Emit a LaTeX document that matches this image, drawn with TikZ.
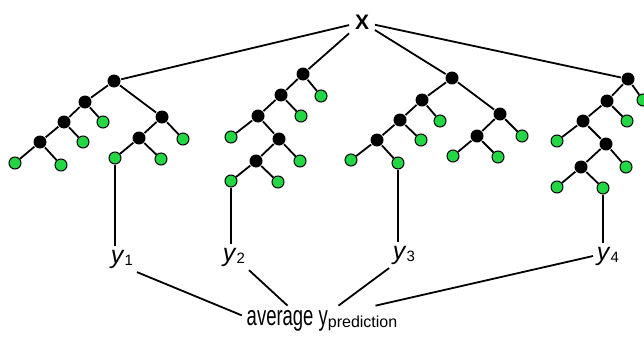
\documentclass[tikz,border=0pt]{standalone}
\usepackage{fontspec}
\setmainfont{Liberation Sans}
\newfontfamily\narrowfont{Liberation Sans}[FakeStretch=0.66]
\usepackage{tikz}
\usetikzlibrary{positioning}
\definecolor{leafgreen}{RGB}{34,214,68}
\newcommand{\ysub}[1]{\textit{y}\raisebox{-2.5pt}{\fontsize{15}{17}\selectfont #1}}

\begin{document}
\begin{tikzpicture}[x=1pt,y=-1pt,
        split/.style={circle,fill=black,inner sep=0pt,minimum size=13pt},
        leaf/.style={circle,draw=black,line width=1pt,fill=leafgreen,inner sep=0pt,minimum size=12pt},
        ylab/.style={inner sep=3pt,font=\fontsize{25}{28}\selectfont},
        every path/.style={line width=1.8pt}]
        \useasboundingbox (0,0) rectangle (644,337);

        \node[inner sep=5pt,font=\fontsize{21}{24}\selectfont\bfseries] (x) at (362,22) {X};

        % tree 1
        \node[split] (t1r) at (114,81) {};
        \node[split] (t1a) at (85,102) {};
        \node[split] (t1b) at (64,122) {};
        \node[split] (t1c) at (40,142) {};
        \node[split] (t1d) at (162,117) {};
        \node[split] (t1e) at (139,138) {};
        \node[leaf] (t1cl) at (15,163) {};
        \node[leaf] (t1cr) at (61,165) {};
        \node[leaf] (t1br) at (83,142) {};
        \node[leaf] (t1ar) at (103,122) {};
        \node[leaf] (t1dr) at (183,139) {};
        \node[leaf] (t1el) at (115,158) {};
        \node[leaf] (t1er) at (161,159) {};

        % tree 2
        \node[split] (t2r) at (303,74) {};
        \node[split] (t2a) at (281,95) {};
        \node[split] (t2b) at (258,116) {};
        \node[split] (t2c) at (279,139) {};
        \node[split] (t2d) at (256,161) {};
        \node[leaf] (t2rr) at (321,96) {};
        \node[leaf] (t2ar) at (301,116) {};
        \node[leaf] (t2bl) at (231,137) {};
        \node[leaf] (t2cr) at (300,161) {};
        \node[leaf] (t2dl) at (231,181) {};
        \node[leaf] (t2dr) at (278,182) {};

        % tree 3
        \node[split] (t3r) at (452,78) {};
        \node[split] (t3a) at (422,100) {};
        \node[split] (t3b) at (400,120) {};
        \node[split] (t3c) at (377,140) {};
        \node[split] (t3d) at (500,114) {};
        \node[split] (t3e) at (477,136) {};
        \node[leaf] (t3ar) at (440,121) {};
        \node[leaf] (t3br) at (421,140) {};
        \node[leaf] (t3cl) at (351,160) {};
        \node[leaf] (t3cr) at (398,163) {};
        \node[leaf] (t3dr) at (522,136) {};
        \node[leaf] (t3el) at (453,156) {};
        \node[leaf] (t3er) at (498,157) {};

        % tree 4
        \node[split] (t4r) at (628,79) {};
        \node[split] (t4a) at (607,101) {};
        \node[split] (t4b) at (583,121) {};
        \node[split] (t4c) at (606,144) {};
        \node[split] (t4d) at (581,167) {};
        \node[leaf] (t4rr) at (643,100) {};
        \node[leaf] (t4ar) at (627,121) {};
        \node[leaf] (t4bl) at (557,141) {};
        \node[leaf] (t4cr) at (626,167) {};
        \node[leaf] (t4dl) at (557,187) {};
        \node[leaf] (t4dr) at (603,188) {};

        \foreach \a/\b in {x/t1r,x/t2r,x/t3r,x/t4r,
                t1r/t1a,t1a/t1b,t1b/t1c,t1c/t1cl,t1c/t1cr,t1b/t1br,t1a/t1ar,
                t1r/t1d,t1d/t1e,t1d/t1dr,t1e/t1el,t1e/t1er,
                t2r/t2a,t2r/t2rr,t2a/t2b,t2a/t2ar,t2b/t2bl,t2b/t2c,t2c/t2cr,
                t2c/t2d,t2d/t2dl,t2d/t2dr,
                t3r/t3a,t3a/t3b,t3b/t3c,t3a/t3ar,t3b/t3br,t3c/t3cl,t3c/t3cr,
                t3r/t3d,t3d/t3e,t3d/t3dr,t3e/t3el,t3e/t3er,
                t4r/t4a,t4r/t4rr,t4a/t4b,t4a/t4ar,t4b/t4bl,t4b/t4c,t4c/t4cr,
                t4c/t4d,t4d/t4dl,t4d/t4dr}
            \draw (\a) -- (\b);

        % predictions
        \node[ylab] (y1) at (122,259) {\ysub{1}};
        \node[ylab] (y2) at (234,257) {\ysub{2}};
        \node[ylab] (y3) at (404,255) {\ysub{3}};
        \node[ylab] (y4) at (608,256) {\ysub{4}};
        \draw (t1el) -- (t1el |- y1.north);
        \draw (t2dl) -- (t2dl |- y2.north);
        \draw (t3cr) -- (t3cr |- y3.north);
        \draw (t4dr) -- (t4dr |- y4.north);

        \node[inner sep=4pt] (avg) at (322,321)
            {\fontsize{28}{30}\narrowfont average y\raisebox{-2pt}{\fontsize{16}{18}\selectfont\rmfamily prediction}};
        \draw (y1.south east) -- (avg.176);
        \draw (y2.south east) -- (avg.156);
        \draw (y3.south west) -- (avg.43);
        \draw (y4.west) -- (avg.16);
\end{tikzpicture}
\end{document}
